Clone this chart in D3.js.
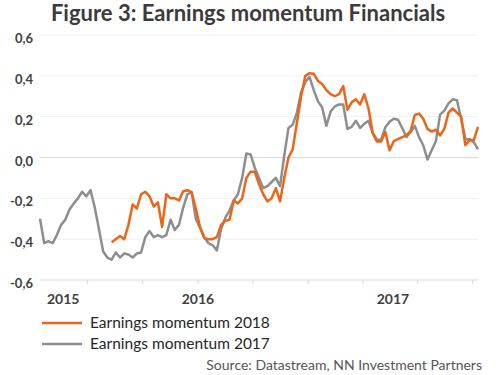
<!DOCTYPE html>
<html>
<head>
<meta charset="utf-8">
<script src="https://cdn.jsdelivr.net/npm/d3@7"></script>
<style>
  body { margin: 0; background: #fff; }
  text { font-family: Lato, "Open Sans", sans-serif; }
</style>
</head>
<body>
<svg width="500" height="375"></svg>
<script>
// weekly-ish observations, index 0..104
const em2017 = [
  -0.30, -0.42, -0.41, -0.42, -0.38, -0.33, -0.305, -0.255, -0.225, -0.20,
  -0.168, -0.19, -0.16, -0.245, -0.35, -0.46, -0.49, -0.50, -0.465, -0.49,
  -0.47, -0.475, -0.49, -0.47, -0.465, -0.39, -0.36, -0.39, -0.38, -0.39,
  -0.38, -0.305, -0.355, -0.33, -0.245, -0.18, -0.17, -0.30, -0.345, -0.39,
  -0.42, -0.43, -0.455, -0.35, -0.295, -0.26, -0.21, -0.18, -0.10, 0.02,
  0.015, -0.05, -0.10, -0.15, -0.14, -0.12, -0.10, -0.14, 0.01, 0.145,
  0.16, 0.22, 0.32, 0.37, 0.395, 0.33, 0.275, 0.245, 0.155, 0.225,
  0.25, 0.26, 0.26, 0.14, 0.15, 0.18, 0.145, 0.165, 0.18, 0.12,
  0.087, 0.087, 0.148, 0.175, 0.19, 0.185, 0.145, 0.10, 0.125, 0.155,
  0.10, 0.06, -0.01, 0.035, 0.08, 0.21, 0.23, 0.265, 0.285, 0.28,
  0.19, 0.09, 0.09, 0.075, 0.04
];

// starts at index 17
const em2018Start = 17;
const em2018 = [
  -0.415, -0.40, -0.385, -0.40, -0.33, -0.23, -0.25, -0.18, -0.168, -0.19,
  -0.24, -0.22, -0.34, -0.18, -0.20, -0.20, -0.21, -0.165, -0.16, -0.17,
  -0.25, -0.34, -0.395, -0.40, -0.40, -0.39, -0.33, -0.31, -0.305, -0.21,
  -0.225, -0.20, -0.10, -0.07, -0.07, -0.13, -0.18, -0.215, -0.20, -0.15,
  -0.215, -0.10, 0.00, 0.04, 0.17, 0.30, 0.40, 0.413, 0.41, 0.375,
  0.36, 0.33, 0.31, 0.30, 0.31, 0.35, 0.234, 0.27, 0.285, 0.26,
  0.31, 0.24, 0.12, 0.078, 0.078, 0.125, 0.035, 0.08, 0.09, 0.10,
  0.108, 0.13, 0.208, 0.215, 0.19, 0.14, 0.127, 0.136, 0.108, 0.14,
  0.22, 0.24, 0.22, 0.20, 0.06, 0.085, 0.085, 0.15
];

const yTicks = [-0.6, -0.4, -0.2, 0, 0.2, 0.4, 0.6];
const xTickIdx = [11.3, 24.4, 37.5, 50.6, 63.7, 76.7, 89.7, 102.7];
const yearLabels = ["2015", "2016", "2017"];
const yearIdx = [5.5, 37.5, 83.8];
const seriesNames = ["Earnings momentum 2018", "Earnings momentum 2017"];
const seriesColors = ["#ec6518", "#8e8e8e"];

const svg = d3.select("svg");
const x = d3.scaleLinear().domain([0, 104]).range([40, 478]);
const y = d3.scaleLinear().domain([-0.6, 0.6]).range([280, 35]);
const fmt = (d) => d3.format(".1f")(d).replace(".", ",").replace("−", "-");

svg.append("text")
  .attr("x", 248)
  .attr("y", 21)
  .attr("text-anchor", "middle")
  .attr("font-size", 22)
  .attr("font-weight", "bold")
  .attr("fill", "#3b3b3b")
  .text("Figure 3: Earnings momentum Financials");

// gridlines
svg.append("g")
  .selectAll("line")
  .data(yTicks)
  .enter()
  .append("line")
  .attr("x1", 40)
  .attr("x2", 478)
  .attr("y1", (d) => y(d))
  .attr("y2", (d) => y(d))
  .attr("stroke", (d) => (d === 0 || d === -0.6 ? "#d9d9d9" : "#efefef"))
  .attr("stroke-width", 1);

svg.append("g")
  .selectAll("text")
  .data(yTicks)
  .enter()
  .append("text")
  .attr("x", 33)
  .attr("y", (d) => y(d) + 8)
  .attr("text-anchor", "end")
  .attr("font-size", 13)
  .attr("font-weight", "bold")
  .attr("fill", "#404040")
  .text(fmt);

// x ticks
svg.append("g")
  .selectAll("line")
  .data(xTickIdx)
  .enter()
  .append("line")
  .attr("x1", (d) => x(d))
  .attr("x2", (d) => x(d))
  .attr("y1", y(-0.6))
  .attr("y2", y(-0.6) + 4)
  .attr("stroke", "#d9d9d9");

svg.append("g")
  .selectAll("text")
  .data(yearLabels)
  .enter()
  .append("text")
  .attr("x", (d, i) => x(yearIdx[i]))
  .attr("y", 304)
  .attr("text-anchor", "middle")
  .attr("font-size", 14)
  .attr("font-weight", "bold")
  .attr("fill", "#404040")
  .text((d) => d);

const line = d3.line()
  .x((d) => x(d[0]))
  .y((d) => y(d[1]));

const s2017 = em2017.map((v, i) => [i, v]);
const s2018 = em2018.map((v, i) => [i + em2018Start, v]);

svg.append("path")
  .datum(s2017)
  .attr("d", line)
  .attr("fill", "none")
  .attr("stroke", seriesColors[1])
  .attr("stroke-width", 2.5)
  .attr("stroke-linejoin", "round");

svg.append("path")
  .datum(s2018)
  .attr("d", line)
  .attr("fill", "none")
  .attr("stroke", seriesColors[0])
  .attr("stroke-width", 2.5)
  .attr("stroke-linejoin", "round");

// legend
const legend = svg.append("g")
  .selectAll("g")
  .data(seriesNames)
  .enter()
  .append("g")
  .attr("transform", (d, i) => `translate(42, ${323 + i * 21})`);

legend.append("line")
  .attr("x1", 0)
  .attr("x2", 40)
  .attr("stroke", (d, i) => seriesColors[i])
  .attr("stroke-width", 2.5);

legend.append("text")
  .attr("x", 48)
  .attr("y", 5)
  .attr("font-size", 15.5)
  .attr("fill", "#262626")
  .text((d) => d);

svg.append("text")
  .attr("x", 482)
  .attr("y", 370)
  .attr("text-anchor", "end")
  .attr("font-size", 14)
  .attr("fill", "#555")
  .text("Source: Datastream, NN Investment Partners");
</script>
</body>
</html>
